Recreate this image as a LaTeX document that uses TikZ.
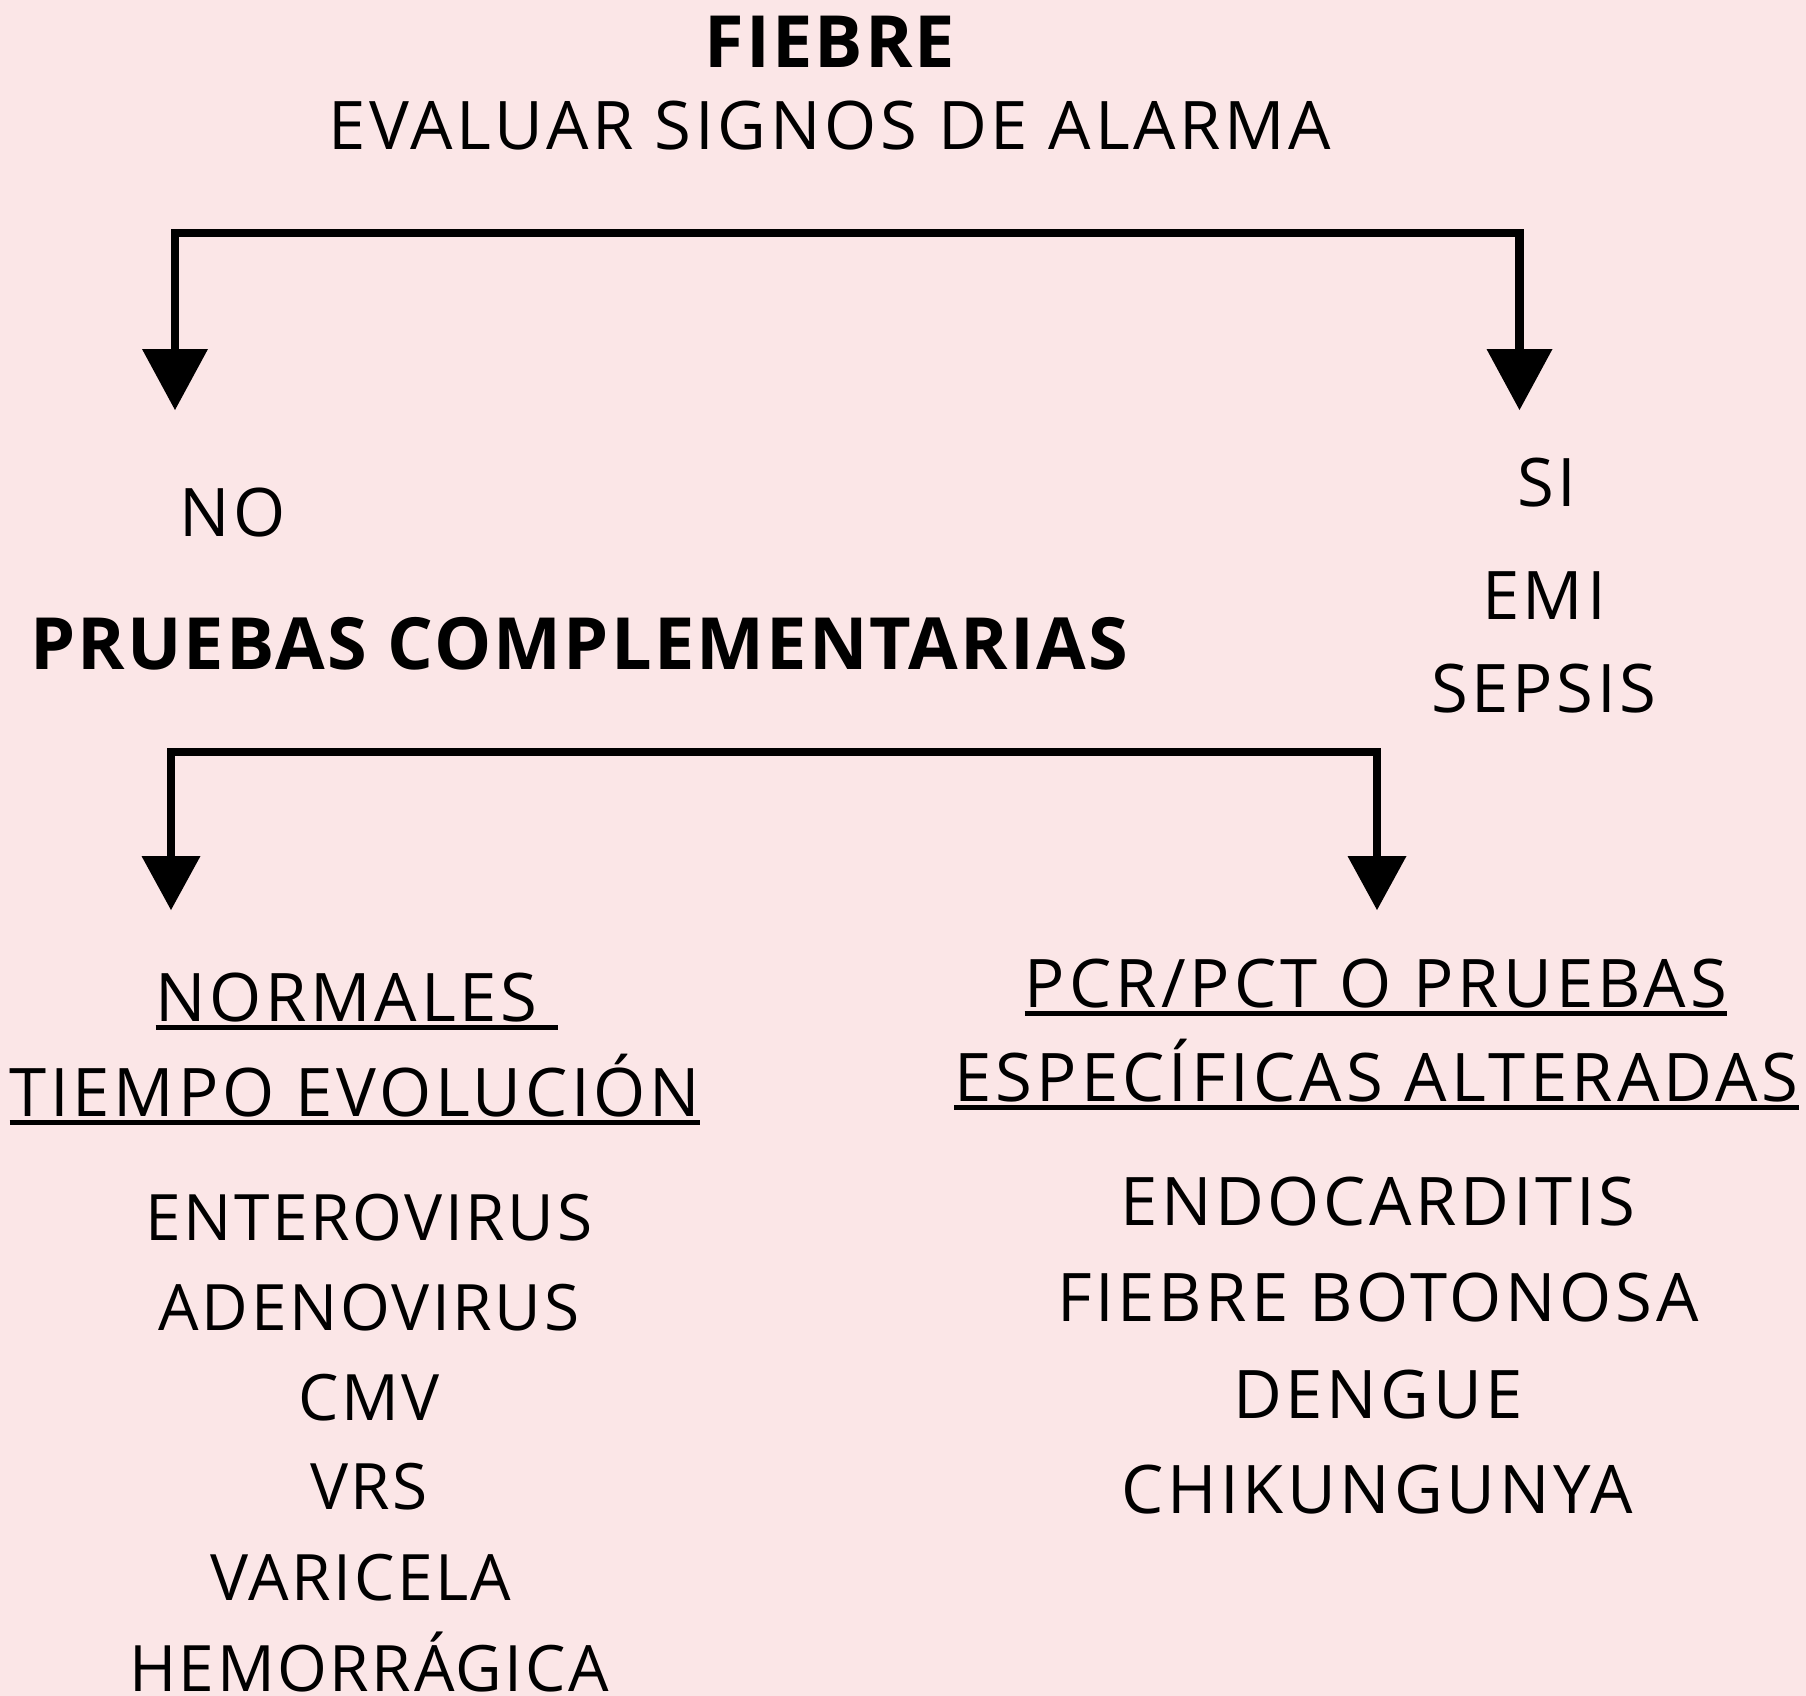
\documentclass[tikz,border=0pt]{standalone}
\usepackage{fontspec}
\setmainfont{Open Sans}[LetterSpace=5.5, BoldFeatures={LetterSpace=3}]
\usetikzlibrary{arrows.meta}
\definecolor{bg}{RGB}{251,230,231}
\tikzset{
  txt/.style={inner sep=0pt, anchor=base, font=\fontsize{67}{80}\selectfont},
  wtxt/.style={inner sep=0pt, anchor=base, font=\fontsize{67}{80}\selectfont\addfontfeatures{LetterSpace=6.2}},
  ltxt/.style={inner sep=0pt, anchor=base, font=\fontsize{64}{76}\selectfont\addfontfeatures{LetterSpace=4}},
  btxt/.style={inner sep=0pt, anchor=base, font=\fontsize{72}{86}\selectfont\bfseries},
  conn/.style={line width=8.5pt, -{Triangle[length=61pt,width=66pt,line width=0pt]}},
  conntwo/.style={line width=8.5pt, -{Triangle[length=54pt,width=59pt,line width=0pt]}},
  uline/.style={line width=5.5pt}
}
\begin{document}
\begin{tikzpicture}[x=1pt,y=-1pt]
\fill[bg] (0,0) rectangle (1806,1696);
\useasboundingbox (0,0) rectangle (1806,1696);

\node[btxt] (fiebre) at (830,68) {FIEBRE};
\node[txt] (evaluar) at (830,150) {EVALUAR SIGNOS DE ALARMA};

\node[txt] (no) at (233,536) {NO};
\node[txt] (si) at (1547,506) {SI};
\node[txt] (emi) at (1544,619) {EMI};
\node[txt] (sepsis) at (1544,712) {SEPSIS};
\node[btxt] (pruebas) at (579,669) {PRUEBAS COMPLEMENTARIAS};

\node[txt, anchor=base west] (normales) at (155.5,1021) {NORMALES\rule{20pt}{0pt}};
\node[txt] (tiempo) at (355,1116) {TIEMPO EVOLUCIÓN};
\node[wtxt] (pcr) at (1376,1007) {PCR/PCT O PRUEBAS};
\node[wtxt] (espec) at (1376.5,1101) {ESPECÍFICAS ALTERADAS};

\foreach \n in {normales,tiempo,pcr,espec}
  \draw[uline] ([yshift=-6.5pt]\n.base west) -- ([yshift=-6.5pt]\n.base east);

\node[txt] (endo) at (1378,1225) {ENDOCARDITIS};
\node[txt] (fbot) at (1378,1321) {FIEBRE BOTONOSA};
\node[txt] (dengue) at (1378,1418) {DENGUE};
\node[txt] (chik) at (1377,1513) {CHIKUNGUNYA};

\node[ltxt] (entero) at (369,1240) {ENTEROVIRUS};
\node[ltxt] (adeno) at (369,1330) {ADENOVIRUS};
\node[ltxt] (cmv) at (369,1420) {CMV};
\node[ltxt] (vrs) at (369,1509) {VRS};
\node[ltxt] (varicela) at (361,1600) {VARICELA};
\node[ltxt] (hemo) at (369,1691) {HEMORRÁGICA};

\coordinate (j1) at (847,233);
\coordinate (tipno) at (175,410);
\coordinate (tipsi) at (1519.5,410);
\draw[conn] (j1) -| (tipno);
\draw[conn] (j1) -| (tipsi);

\coordinate (j2) at (774,752);
\coordinate (tipnorm) at (171,910);
\coordinate (tippcr) at (1377,910);
\draw[conntwo] (j2) -| (tipnorm);
\draw[conntwo] (j2) -| (tippcr);
\end{tikzpicture}
\end{document}
